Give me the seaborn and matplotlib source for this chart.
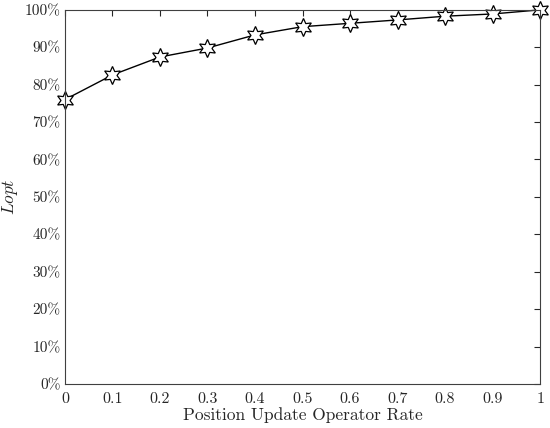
import numpy as np
import pandas as pd
import matplotlib
matplotlib.use("Agg")
import matplotlib.pyplot as plt
import seaborn as sns
from matplotlib.ticker import PercentFormatter

# Data
rates = [0.0, 0.1, 0.2, 0.3, 0.4, 0.5, 0.6, 0.7, 0.8, 0.9, 1.0]
lopt = [76.0, 82.6, 87.4, 89.8, 93.3, 95.5, 96.4, 97.3, 98.3, 98.9, 100.0]
xtick_labels = ["0", "0.1", "0.2", "0.3", "0.4", "0.5", "0.6", "0.7", "0.8", "0.9", "1"]

df = pd.DataFrame({"rate": rates, "lopt": lopt})

sns.set_theme(style="white")
plt.rcParams["font.family"] = ["cmr10", "DejaVu Serif"]
plt.rcParams["mathtext.fontset"] = "cm"
plt.rcParams["axes.formatter.use_mathtext"] = True

fig = plt.figure(figsize=(5.5, 4.28), dpi=100)
ax = fig.add_axes([0.118, 0.103, 0.864, 0.874])

sns.lineplot(data=df, x="rate", y="lopt", ax=ax, color="black", linewidth=1.0,
             marker=(6, 1, 0), markersize=13, markerfacecolor="white",
             markeredgecolor="black", markeredgewidth=0.9, clip_on=False)

ax.set_xlim(0, 1)
ax.set_ylim(0, 100)
ax.set_xticks(rates)
ax.set_xticklabels(xtick_labels)
ax.set_yticks(np.arange(0, 101, 10))
ax.yaxis.set_major_formatter(PercentFormatter(decimals=0))

ax.tick_params(direction="in", top=True, right=True, length=4, width=0.8,
               labelsize=11.5, colors="#262626")
ax.tick_params(axis="x", pad=6)
ax.tick_params(axis="y", pad=3, labelsize=11)
for s in ax.spines.values():
    s.set_color("#404040")
    s.set_linewidth(0.8)

ax.set_xlabel("Position Update Operator Rate", fontsize=12.5, labelpad=1, color="#262626")
ax.set_ylabel(r"$Lopt$", fontsize=12.5, labelpad=3, color="#262626")
ax.yaxis.set_label_coords(-0.095, 0.5)

fig.savefig("out.png", dpi=100)
